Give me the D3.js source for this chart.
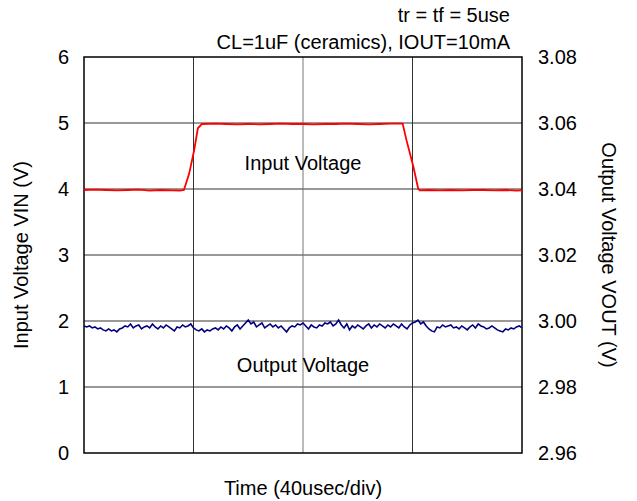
<!DOCTYPE html>
<html><head><meta charset="utf-8">
<script src="https://cdn.jsdelivr.net/npm/d3@7"></script>
<style>body{margin:0;background:#fff}svg{display:block;font-family:"Liberation Sans",Arial,sans-serif}</style>
</head><body><svg id="c" width="637" height="501"></svg>
<script>
const timeDomain = [0, 160];
const timeTicks = [0, 40, 80, 120, 160];
const vinTicks = [0, 1, 2, 3, 4, 5, 6];
const voutTicks = [2.96, 2.98, 3.00, 3.02, 3.04, 3.06, 3.08];
const voutTickLabels = ["2.96", "2.98", "3.00", "3.02", "3.04", "3.06", "3.08"];

const vinTime = [0, 4, 8, 12, 16, 20, 24, 28, 32, 35, 36.5, 38.4, 40.2, 41.6, 43.1, 48, 52, 56, 60, 64, 68, 72, 76, 80, 84, 88, 92, 96, 100, 104, 108, 112, 116.4, 117.8, 120.3, 122.1, 122.7, 126, 130, 134, 138, 142, 146, 150, 154, 158, 160];
const vinValues = [3.985, 3.99, 3.985, 3.98, 3.985, 3.99, 3.975, 3.985, 3.98, 3.975, 3.985, 4.23, 4.58, 4.92, 4.985, 4.99, 4.985, 4.98, 4.985, 4.98, 4.985, 4.99, 4.985, 4.985, 4.98, 4.985, 4.985, 4.99, 4.985, 4.98, 4.985, 4.99, 4.99, 4.74, 4.34, 4.0, 3.98, 3.985, 3.98, 3.985, 3.98, 3.985, 3.985, 3.98, 3.985, 3.975, 3.98];

const voutTime = d3.range(0, 161, 1);
const voutValues = [
  2.9985, 2.9982, 2.9985, 2.9979, 2.9982, 2.9976, 2.9979, 2.9973, 2.9970, 2.9976,
  2.9970, 2.9973, 2.9967, 2.9976, 2.9979, 2.9985, 2.9982, 2.9991, 2.9979, 2.9985,
  2.9988, 2.9976, 2.9982, 2.9985, 2.9979, 2.9991, 2.9982, 2.9976, 2.9985, 2.9979,
  2.9988, 2.9982, 2.9976, 2.9970, 2.9982, 2.9979, 2.9988, 2.9982, 2.9985, 2.9991,
  2.9979,
  2.9973, 2.9970, 2.9976, 2.9967, 2.9973, 2.9970, 2.9976, 2.9979, 2.9973, 2.9982,
  2.9976, 2.9985, 2.9979, 2.9970, 2.9982, 2.9988, 2.9976, 2.9985, 2.9994, 3.0003,
  2.9991, 2.9997, 2.9982, 2.9988, 2.9994, 2.9979, 2.9985, 2.9991, 2.9982, 2.9988,
  2.9979, 2.9985, 2.9976, 2.9967, 2.9979, 2.9985, 2.9982, 2.9991, 2.9988, 2.9994,
  2.9985, 2.9976, 2.9988, 2.9982, 2.9979, 2.9988, 2.9985, 2.9994, 2.9991, 2.9997,
  2.9985, 2.9991, 3.0003, 2.9988, 2.9979, 2.9991, 2.9973, 2.9985, 2.9979, 2.9988,
  2.9982, 2.9976, 2.9985, 2.9991, 2.9979, 2.9988, 2.9982, 2.9991, 2.9985, 2.9979,
  2.9988, 2.9982, 2.9991, 2.9985, 2.9979, 2.9991, 2.9982, 2.9976, 2.9988, 2.9994,
  2.9997, 3.0003, 2.9991, 2.9997, 2.9985, 2.9976, 2.9970, 2.9967, 2.9982, 2.9979,
  2.9988, 2.9982, 2.9985, 2.9988, 2.9979, 2.9982, 2.9976, 2.9985, 2.9979, 2.9973,
  2.9982, 2.9988, 2.9979, 2.9991, 2.9985, 2.9982, 2.9976, 2.9979, 2.9985, 2.9979,
  2.9973, 2.9970, 2.9967, 2.9976, 2.9973, 2.9979, 2.9976, 2.9982, 2.9985, 2.9979
];

const svg = d3.select("#c");
const L = 84, R = 522, T = 57, B = 453;
const FS = 20;
const x = d3.scaleLinear().domain(timeDomain).range([L, R]);
const yL = d3.scaleLinear().domain([0, 6]).range([B, T]);
const yR = d3.scaleLinear().domain([2.96, 3.08]).range([B, T]);

// grid
svg.append("g").selectAll("line").data(vinTicks.slice(1, -1)).join("line")
  .attr("x1", L).attr("x2", R).attr("y1", d => yL(d)).attr("y2", d => yL(d))
  .attr("stroke", "#333").attr("stroke-width", 1);
svg.append("g").selectAll("line").data(timeTicks.slice(1, -1)).join("line")
  .attr("x1", d => x(d)).attr("x2", d => x(d)).attr("y1", T).attr("y2", B)
  .attr("stroke", (d, i) => i === 1 ? "#777" : "#333").attr("stroke-width", 1);

// frame
svg.append("rect").attr("x", L).attr("y", T).attr("width", R - L).attr("height", B - T)
  .attr("fill", "none").attr("stroke", "#000").attr("stroke-width", 1.5);

// left axis
const axL = d3.axisLeft(yL).tickValues(vinTicks).tickSize(0).tickPadding(15).tickFormat(d3.format("d"));
const gL = svg.append("g").attr("transform", `translate(${L},0)`).call(axL);
gL.select(".domain").remove();
gL.selectAll("text").attr("font-size", FS).attr("fill", "#000").attr("font-family", "Liberation Sans, Arial, sans-serif");

const axR = d3.axisRight(yR).tickValues(voutTicks).tickSize(0).tickPadding(16).tickFormat((d, i) => voutTickLabels[i]);
const gR = svg.append("g").attr("transform", `translate(${R},0)`).call(axR);
gR.select(".domain").remove();
gR.selectAll("text").attr("font-size", FS).attr("fill", "#000").attr("font-family", "Liberation Sans, Arial, sans-serif");

// lines
const lineIn = d3.line().x((d, i) => x(vinTime[i])).y(d => yL(d));
svg.append("path").datum(vinValues).attr("d", lineIn)
  .attr("fill", "none").attr("stroke", "#ff0000").attr("stroke-width", 1.8);
const lineOut = d3.line().x((d, i) => x(voutTime[i])).y(d => yR(d));
svg.append("path").datum(voutValues).attr("d", lineOut)
  .attr("fill", "none").attr("stroke", "#000080").attr("stroke-width", 1.6);

// texts
const txt = (s, xx, yy, anchor, rot) => {
  const t = svg.append("text").text(s).attr("font-size", FS).attr("fill", "#000")
    .attr("text-anchor", anchor);
  if (rot) t.attr("transform", `translate(${xx},${yy}) rotate(${rot})`);
  else t.attr("x", xx).attr("y", yy);
  return t;
};
txt("tr = tf = 5use", 510, 22, "end");
txt("CL=1uF (ceramics), IOUT=10mA", 510, 49, "end");
txt("Input Voltage", 303, 170, "middle");
txt("Output Voltage", 303, 372, "middle");
txt("Time (40usec/div)", 303, 495, "middle");
txt("Input Voltage VIN (V)", 28, 255, "middle", -90);
txt("Output Voltage VOUT (V)", 602, 255, "middle", 90);
</script></body></html>
